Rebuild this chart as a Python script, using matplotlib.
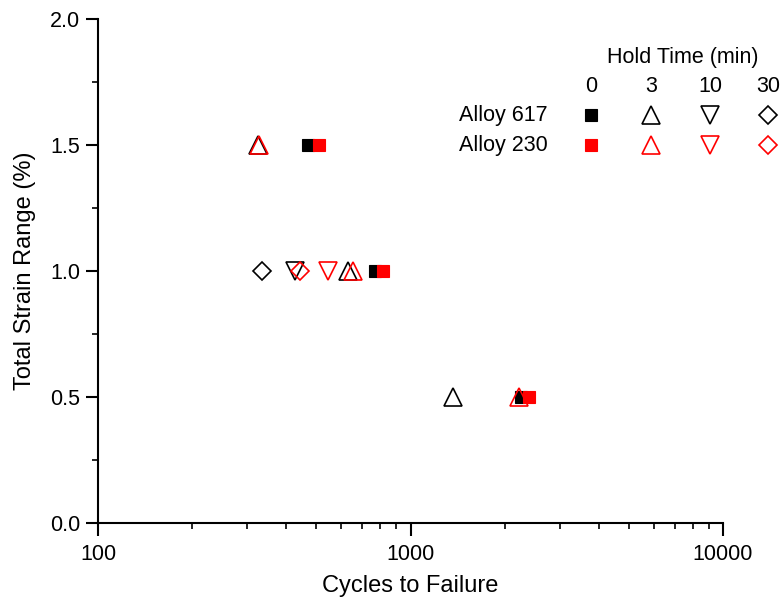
import matplotlib
matplotlib.use("Agg")
import matplotlib.pyplot as plt
from matplotlib.ticker import FixedLocator, LogLocator, NullFormatter, FuncFormatter
from matplotlib.lines import Line2D

plt.rcParams["font.family"] = ["Liberation Sans", "DejaVu Sans"]

# Hold times (min) and their marker shapes
hold_times = [0, 3, 10, 30]
hold_labels = ["0", "3", "10", "30"]
markers = ["s", "^", "v", "D"]
alloys = ["Alloy 617", "Alloy 230"]
colors = ["black", "red"]

# Alloy 617: total strain range (%) and cycles to failure per hold time
a617_strain_0 = [1.5, 1.0, 0.5]
a617_cycles_0 = [469, 772, 2260]
a617_strain_3 = [1.5, 1.0, 0.5]
a617_cycles_3 = [325, 631, 1368]
a617_strain_10 = [1.0]
a617_cycles_10 = [427]
a617_strain_30 = [1.0]
a617_cycles_30 = [335]

# Alloy 230
a230_strain_0 = [1.5, 1.0, 0.5]
a230_cycles_0 = [510, 817, 2394]
a230_strain_3 = [1.5, 1.0, 0.5]
a230_cycles_3 = [327, 655, 2230]
a230_strain_10 = [1.0]
a230_cycles_10 = [545]
a230_strain_30 = [1.0]
a230_cycles_30 = [443]

series = [
    (a617_cycles_0, a617_strain_0, 0, 0),
    (a617_cycles_3, a617_strain_3, 1, 0),
    (a617_cycles_10, a617_strain_10, 2, 0),
    (a617_cycles_30, a617_strain_30, 3, 0),
    (a230_cycles_0, a230_strain_0, 0, 1),
    (a230_cycles_3, a230_strain_3, 1, 1),
    (a230_cycles_10, a230_strain_10, 2, 1),
    (a230_cycles_30, a230_strain_30, 3, 1),
]

W, H = 783, 604
fig = plt.figure(figsize=(W / 100, H / 100), dpi=100)
ax = fig.add_axes([98 / W, 1 - 523 / H, (723 - 98) / W, (523 - 19) / H])


def marker_style(m_idx, c_idx):
    m = markers[m_idx]
    c = colors[c_idx]
    if m == "s":
        return dict(marker="s", ms=8.8, mfc=c, mec=c, mew=0.8)
    if m == "D":
        return dict(marker="D", ms=9.0, mfc="none", mec=c, mew=1.2)
    return dict(marker=m, ms=12.5, mfc="none", mec=c, mew=1.2)


for cyc, strain, m_idx, c_idx in series:
    ax.plot(cyc, strain, linestyle="none", **marker_style(m_idx, c_idx))

ax.set_xscale("log")
ax.set_xlim(100, 10000)
ax.set_ylim(0.0, 2.0)

ax.xaxis.set_major_locator(FixedLocator([100, 1000, 10000]))
ax.xaxis.set_major_formatter(FuncFormatter(lambda v, p: f"{int(round(v))}"))
ax.xaxis.set_minor_locator(LogLocator(base=10, subs=range(2, 10)))
ax.xaxis.set_minor_formatter(NullFormatter())
ax.yaxis.set_major_locator(FixedLocator([0.0, 0.5, 1.0, 1.5, 2.0]))
ax.yaxis.set_minor_locator(FixedLocator([0.25, 0.75, 1.25, 1.75]))
ax.yaxis.set_major_formatter(FuncFormatter(lambda v, p: f"{v:.1f}"))

for side in ["top", "right"]:
    ax.spines[side].set_visible(False)
for side in ["left", "bottom"]:
    ax.spines[side].set_linewidth(1.5)

ax.tick_params(which="major", direction="out", length=9, width=1.5,
               labelsize=15.5, pad=4)
ax.tick_params(which="minor", direction="out", length=4.5, width=1.2)
ax.tick_params(axis="x", which="major", pad=6)

ax.set_xlabel("Cycles to Failure", fontsize=17, labelpad=7)
ax.set_ylabel("Total Strain Range (%)", fontsize=17, labelpad=10)


# Hand-built legend table in figure pixel coordinates
def fx(px):
    return px / W


def fy(py):
    return 1 - py / H


col_x = [591, 651, 710, 768]
row_y = [115, 145]
fig.text(fx(683), fy(57), "Hold Time (min)", ha="center", va="center", fontsize=15.5)
for x, lab in zip(col_x, hold_labels):
    fig.text(fx(x), fy(86), lab, ha="center", va="center", fontsize=15.5)
for r, (name, y) in enumerate(zip(alloys, row_y)):
    fig.text(fx(548), fy(y), name, ha="right", va="center", fontsize=15.5)
    for m_idx, x in enumerate(col_x):
        fig.add_artist(Line2D([fx(x)], [fy(y)], transform=fig.transFigure,
                              linestyle="none", **marker_style(m_idx, r)))

fig.savefig("out.png", dpi=100, facecolor="white")
